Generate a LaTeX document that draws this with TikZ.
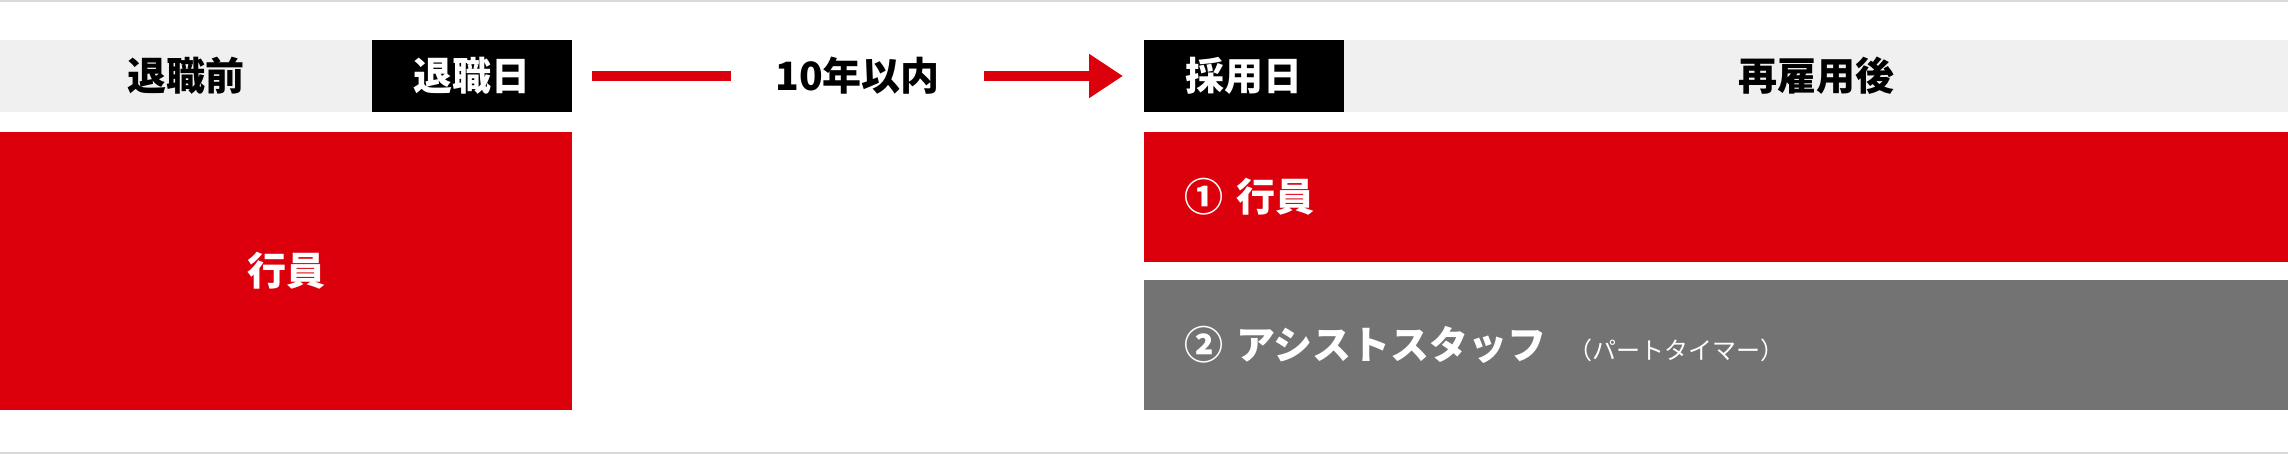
\documentclass[tikz,border=0pt]{standalone}
\usepackage{fontspec}
\setmainfont{Noto Sans CJK JP}
\usepackage{xcolor}
\usetikzlibrary{arrows.meta,positioning}

\definecolor{bankred}{HTML}{DC000C}
\definecolor{bandgray}{HTML}{F0F0F0}
\definecolor{boxgray}{HTML}{737373}
\definecolor{rulegray}{HTML}{D9D9D9}

\begin{document}
\begin{tikzpicture}[x=1pt,y=1pt,
    every node/.style={inner sep=0pt, outer sep=0pt,
      font=\fontsize{39}{39}\selectfont\bfseries},
    band/.style={fill=bandgray, minimum height=72pt},
    tag/.style={fill=black, text=white, minimum width=200pt, minimum height=72pt},
    block/.style={fill=bankred, text=white},
    rowbox/.style={block, minimum height=130pt, text width=1064pt,
      inner xsep=40pt, align=left},
    redline/.style={draw=bankred, line width=10pt}]
  \useasboundingbox (0,0) rectangle (2288,454);
  % top and bottom rules
  \fill[rulegray] (0,452) rectangle (2288,454);
  \fill[rulegray] (0,0) rectangle (2288,2);

  % header row
  \node (before) [band, minimum width=372pt, anchor=south west] at (0,342) {退職前};
  \node (retire) [tag, right=0pt of before] {退職日};
  \node (period) [minimum width=253pt] at (857.5,378) {10年以内};
  \node (hire) [tag, anchor=south west] at (1144,342) {採用日};
  \node (after) [band, minimum width=944pt, right=0pt of hire] {再雇用後};

  % blocks
  \node (staff) [block, minimum width=572pt, minimum height=278pt,
    anchor=north west] at (0,322) {行員};
  \node (rehire) [rowbox, anchor=north west] at (1144,322) {① 行員};
  \node (assist) [rowbox, fill=boxgray, below=18pt of rehire]
    {② アシストスタッフ\hspace{22pt}{\fontsize{24}{24}\selectfont\mdseries （パートタイマー）}};

  % period connectors
  \draw[redline] ([xshift=20pt]retire.east) -- (period.west);
  \draw[redline, -{Triangle[length=34pt,width=42pt]}] (period.east)
    -- ([xshift=-21pt]hire.west);
\end{tikzpicture}
\end{document}
